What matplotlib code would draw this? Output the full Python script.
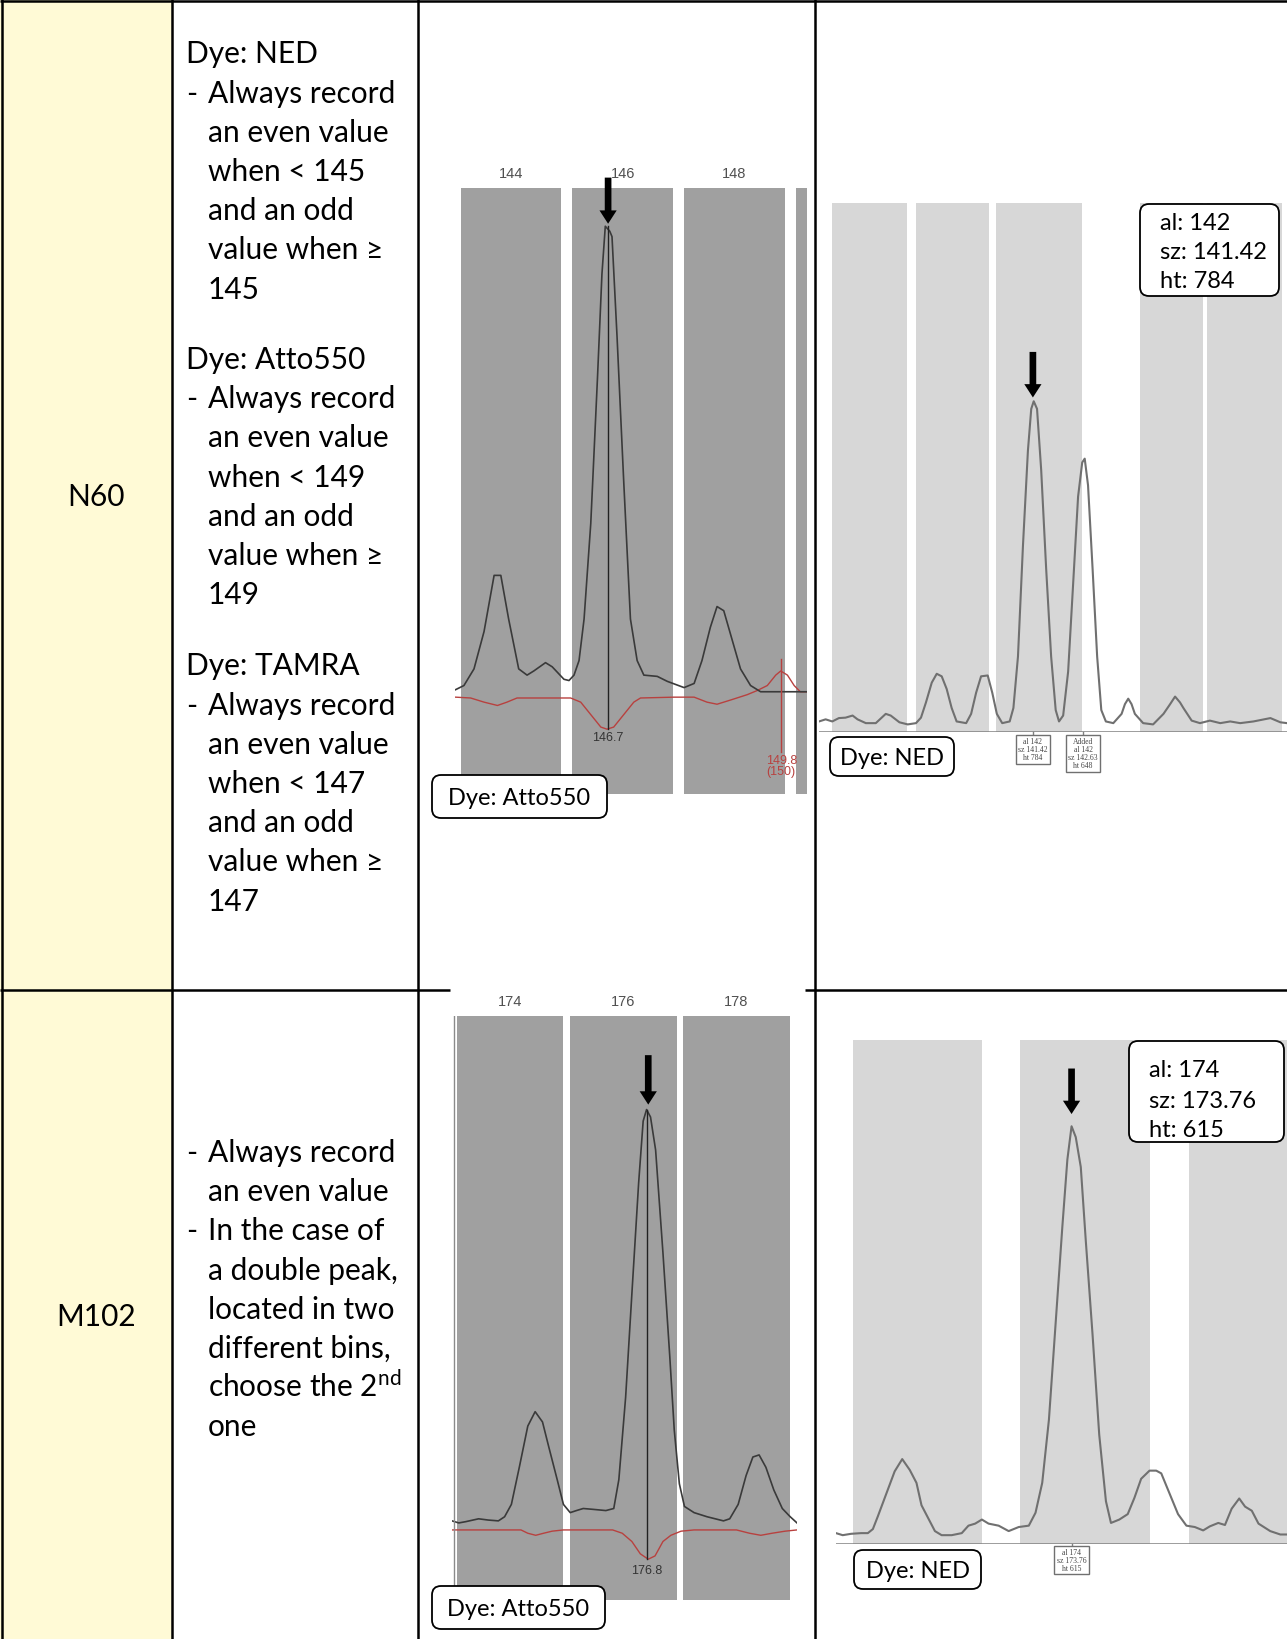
import matplotlib
matplotlib.use("Agg")
import matplotlib.pyplot as plt
from matplotlib.patches import FancyBboxPatch, Rectangle

# ------------------------------------
# Table text

markers = ["N60", "M102"]

n60_notes = [
    ["Dye: NED", "- Always record", "an even value", "when < 145",
     "and an odd", "value when \u2265", "145"],
    ["Dye: Atto550", "- Always record", "an even value", "when < 149",
     "and an odd", "value when \u2265", "149"],
    ["Dye: TAMRA", "- Always record", "an even value", "when < 147",
     "and an odd", "value when \u2265", "147"],
]
m102_notes = [
    ["- Always record", "an even value", "- In the case of", "a double peak,",
     "located in two", "different bins,", "choose the 2$^{\\mathregular{nd}}$", "one"],
]

# ------------------------------------
# N60, Atto550 electropherogram (size in bp, signal)

a_bins = [144, 146, 148, 150]
a_size = [143.01, 143.16, 143.34, 143.52, 143.70, 143.82, 143.96, 144.14, 144.29, 144.41,
          144.62, 144.74, 144.95, 145.04, 145.13, 145.22, 145.31, 145.43, 145.55, 145.63,
          145.69, 145.77, 145.81, 145.90, 146.02, 146.14, 146.26, 146.38, 146.62, 146.80,
          147.10, 147.28, 147.42, 147.57, 147.69, 147.81, 147.96, 148.11, 148.29, 148.47,
          148.71, 148.89, 149.30]
a_signal = [251, 261, 301, 391, 526, 526, 421, 301, 286, 296,
            316, 306, 276, 273, 286, 321, 421, 651, 1001, 1251,
            1366, 1354, 1341, 1101, 751, 421, 321, 286, 283, 271,
            256, 266, 321, 401, 451, 441, 371, 301, 261, 246,
            246, 246, 246]
a_red_size = [143.01, 143.28, 143.52, 143.76, 143.93, 144.11, 145.07, 145.25, 145.43, 145.61,
              145.72, 145.84, 146.02, 146.20, 146.32, 146.92, 147.28, 147.51, 147.69, 147.93,
              148.23, 148.41, 148.59, 148.74, 148.83, 148.95, 149.07, 149.18, 149.30]
a_red_signal = [233, 231, 221, 213, 221, 231, 231, 221, 191, 161,
                156, 161, 191, 221, 231, 233, 233, 221, 216, 226,
                239, 249, 261, 286, 296, 286, 261, 246, 246]
a_call = (145.74, "146.7")
a_red_call = (148.84, "149.8\n(150)")

# ------------------------------------
# N60, NED electropherogram (size in bp, RFU)

b_bins = [(136.57, 138.38), (138.59, 140.36), (140.54, 142.61), (144.01, 145.52), (145.63, 147.42)]
b_size = [136.26, 136.42, 136.58, 136.74, 136.90, 137.07, 137.19, 137.39, 137.63, 137.87,
          137.99, 138.20, 138.40, 138.60, 138.72, 138.84, 138.98, 139.10, 139.22, 139.34,
          139.46, 139.58, 139.81, 139.93, 140.05, 140.17, 140.33, 140.44, 140.55, 140.68,
          140.86, 140.95, 141.06, 141.18, 141.30, 141.38, 141.44, 141.52, 141.62, 141.74,
          141.86, 141.97, 142.05, 142.15, 142.27, 142.39, 142.51, 142.61, 142.67, 142.75,
          142.86, 142.97, 143.07, 143.18, 143.36, 143.56, 143.64, 143.72, 143.80, 143.88,
          144.08, 144.32, 144.57, 144.73, 144.85, 144.97, 145.05, 145.25, 145.45, 145.69,
          145.94, 146.18, 146.42, 146.74, 147.15, 147.39, 147.55]
b_rfu = [25, 30, 25, 33, 34, 39, 30, 21, 21, 43,
         39, 23, 18, 21, 34, 70, 117, 138, 132, 102,
         57, 25, 21, 43, 93, 132, 134, 93, 43, 21,
         25, 57, 179, 441, 667, 766, 784, 766, 621, 387,
         179, 52, 25, 39, 143, 350, 558, 639, 648, 585,
         387, 179, 52, 25, 21, 43, 66, 79, 66, 43,
         21, 18, 43, 66, 84, 70, 57, 27, 21, 27,
         21, 25, 21, 25, 33, 23, 21]
b_calls = [(141.42, "al 142\nsz 141.42\nht 784"), (142.63, "Added\nal 142\nsz 142.63\nht 648")]
b_info = ["al: 142", "sz: 141.42", "ht: 784"]

# ------------------------------------
# M102, Atto550 electropherogram

c_bins = [174, 176, 178]
c_size = [172.97, 173.09, 173.21, 173.44, 173.61, 173.79, 173.90, 174.02, 174.16, 174.31,
          174.44, 174.57, 174.68, 174.83, 174.94, 175.06, 175.17, 175.29, 175.46, 175.69,
          175.83, 175.92, 176.04, 176.15, 176.27, 176.35, 176.41, 176.48, 176.57, 176.70,
          176.82, 176.90, 176.99, 177.08, 177.25, 177.48, 177.77, 177.88, 178.03, 178.17,
          178.29, 178.40, 178.52, 178.66, 178.81, 178.95, 179.07]
c_signal = [192, 187, 190, 197, 194, 192, 202, 232, 322, 422,
            457, 432, 372, 292, 232, 212, 217, 222, 220, 217,
            222, 292, 492, 742, 1012, 1162, 1190, 1172, 1092, 842,
            592, 412, 282, 227, 212, 202, 192, 197, 232, 302,
            347, 352, 322, 267, 222, 202, 187]
c_red_size = [172.97, 174.19, 174.31, 174.45, 174.59, 174.74, 174.94, 175.81, 175.98, 176.15,
              176.30, 176.44, 176.56, 176.70, 176.84, 177.02, 177.25, 178.00, 178.23, 178.43,
              178.63, 178.86, 179.07]
c_red_signal = [170, 170, 162, 157, 162, 167, 170, 170, 162, 142,
                112, 99, 107, 142, 157, 167, 170, 170, 162, 157,
                162, 167, 170]
c_call = (176.42, "176.8")

# ------------------------------------
# M102, NED electropherogram

d_bins = [(171.15, 172.69), (173.15, 174.69), (175.16, 176.90)]
d_size = [170.95, 171.03, 171.13, 171.25, 171.33, 171.39, 171.45, 171.55, 171.65, 171.74,
          171.83, 171.91, 171.97, 172.05, 172.13, 172.21, 172.33, 172.45, 172.53, 172.61,
          172.69, 172.77, 172.89, 173.01, 173.13, 173.25, 173.33, 173.41, 173.49, 173.57,
          173.65, 173.71, 173.76, 173.81, 173.87, 173.93, 174.01, 174.09, 174.17, 174.23,
          174.33, 174.43, 174.51, 174.59, 174.69, 174.77, 174.83, 174.93, 175.03, 175.13,
          175.23, 175.33, 175.41, 175.51, 175.59, 175.67, 175.76, 175.83, 175.91, 175.99,
          176.13, 176.25, 176.33]
d_rfu = [16, 13, 15, 16, 16, 22, 41, 74, 107, 125,
         109, 90, 57, 38, 19, 13, 13, 16, 27, 30,
         36, 30, 27, 19, 25, 27, 46, 90, 183, 325,
         467, 566, 615, 599, 555, 446, 309, 161, 63, 31,
         36, 44, 68, 96, 108, 108, 104, 74, 44, 27,
         25, 20, 26, 31, 28, 52, 67, 55, 49, 30,
         19, 14, 14]
d_calls = [(173.76, "al 174\nsz 173.76\nht 615")]
d_info = ["al: 174", "sz: 173.76", "ht: 615"]

# ------------------------------------
# Styling

W, H = 1287, 1640
FONT = ["Lato", "DejaVu Sans"]
BAR_DARK = "#a0a0a0"
BAR_LIGHT = "#d7d7d7"
TRACE = "#3a3a3a"
RED = "#b8413f"
YELLOW = "#fffad6"

fig = plt.figure(figsize=(W / 100, H / 100), dpi=100)


def px_axes(left, top, right, bottom):
    return fig.add_axes([left / W, 1 - bottom / H, (right - left) / W, (bottom - top) / H])


def peak_arrow(ax, x, tail, tip):
    ax.annotate("", xy=(x, tip), xytext=(x, tail), annotation_clip=False,
                arrowprops=dict(arrowstyle="simple,head_length=0.48,head_width=0.62,tail_width=0.24",
                                mutation_scale=20, fc="black", ec="black", lw=0,
                                shrinkA=0, shrinkB=0))


def atto_panel(ax, bins, half, size, signal, red_size, red_signal, xlim, ymax):
    for c in bins:
        ax.axvspan(c - half, c + half, color=BAR_DARK, lw=0, zorder=0)
        if xlim[0] < c < xlim[1]:
            ax.text(c, ymax + 36, str(c), ha="center", va="center", fontsize=10.5,
                    color="#505050", family="Liberation Sans", clip_on=False)
    ax.plot(red_size, red_signal, color=RED, lw=1.0)
    ax.plot(size, signal, color=TRACE, lw=1.2)
    ax.set_xlim(*xlim)
    ax.set_ylim(0, ymax)
    ax.axis("off")


def ned_panel(ax, bins, size, rfu, calls, xlim, ymax, drop):
    for lo, hi in bins:
        ax.axvspan(lo, hi, color=BAR_LIGHT, lw=0, zorder=0)
    ax.plot(size, rfu, color="#707070", lw=1.5)
    ax.axhline(0, color="#808080", lw=1.8)
    for x, label in calls:
        ax.plot([x, x], [0, -drop], color="#808080", lw=1, clip_on=False)
        ax.text(x, -drop, label, ha="center", va="top", fontsize=5.5, linespacing=1.0,
                family="Liberation Serif", color="#444444", clip_on=False,
                bbox=dict(boxstyle="square,pad=0.3", fc="white", ec="#707070", lw=1))
    ax.set_xlim(*xlim)
    ax.set_ylim(0, ymax)
    ax.axis("off")


# ------------------------------------
# Electropherograms

ax_a = px_axes(455, 189, 807, 795)
atto_panel(ax_a, a_bins, 0.9, a_size, a_signal, a_red_size, a_red_signal, (143.0, 149.3), 1458)
ax_a.plot([a_call[0]] * 2, [max(a_signal), 156], color="#222222", lw=1.0)
ax_a.text(a_call[0], 136, a_call[1], ha="center", va="center", fontsize=9,
          color="#333333", family="Liberation Sans")
ax_a.plot([a_red_call[0]] * 2, [326, 100], color=RED, lw=1.0)
ax_a.text(a_red_call[0], 68, a_red_call[1], ha="center", va="center", fontsize=9,
          color=RED, family="Liberation Sans", linespacing=0.85)
peak_arrow(ax_a, a_call[0], 1483, 1372)

ax_b = px_axes(819, 204, 1287, 733)
ned_panel(ax_b, b_bins, b_size, b_rfu, b_calls, (136.26, 147.55), 1254, 13)
peak_arrow(ax_b, b_calls[0][0], 901, 793)

ax_c = px_axes(452, 1017, 797, 1601)
atto_panel(ax_c, c_bins, 0.94, c_size, c_signal, c_red_size, c_red_signal, (172.97, 179.07), 1417)
ax_c.axvline(173.0, color="#8a8a8a", lw=1.0)
ax_c.plot([c_call[0]] * 2, [max(c_signal), 99], color="#222222", lw=1.0)
ax_c.text(c_call[0], 72, c_call[1], ha="center", va="center", fontsize=9,
          color="#333333", family="Liberation Sans")
peak_arrow(ax_c, 176.44, 1322, 1202)

ax_d = px_axes(836, 1041, 1287, 1545)
ned_panel(ax_d, d_bins, d_size, d_rfu, d_calls, (170.95, 176.33), 742, 6)
peak_arrow(ax_d, d_calls[0][0], 700, 633)

# ------------------------------------
# Table layer on top

ov = fig.add_axes([0, 0, 1, 1], zorder=10)
ov.set_xlim(0, W)
ov.set_ylim(H, 0)
ov.axis("off")

ov.add_patch(Rectangle((0, 0), 172, H, fc=YELLOW, ec="none", zorder=0))
for x in [1.5, 172, 418, 815]:
    ov.plot([x, x], [0, H], color="black", lw=1.8, solid_capstyle="butt")
ov.plot([0, W], [1.5, 1.5], color="black", lw=1.8, solid_capstyle="butt")
ov.plot([0, 450], [991, 991], color="black", lw=1.8, solid_capstyle="butt")
ov.plot([805, W], [991, 991], color="black", lw=1.8, solid_capstyle="butt")

body = dict(fontsize=21.5, family=FONT, color="black", va="baseline")
for name, y in zip(markers, [497, 1317]):
    ov.text(96, y + 9, name, ha="center", **body)


def notes(blocks, starts, step=39.2):
    for block, y0 in zip(blocks, starts):
        for i, line in enumerate(block):
            y = y0 + i * step + 9
            if line.startswith("- "):
                ov.text(186, y, "-", **body)
                ov.text(208, y, line[2:], **body)
            elif line.startswith("Dye"):
                ov.text(186, y, line, **body)
            else:
                ov.text(208, y, line, **body)


notes(n60_notes, [54.4, 360, 666.5])
notes(m102_notes, [1153])


def label_box(x0, y0, x1, y1):
    ov.add_patch(FancyBboxPatch((x0, y0), x1 - x0, y1 - y0,
                                boxstyle="round,pad=0,rounding_size=9",
                                fc="white", ec="black", lw=1.3))


boxed = dict(fontsize=17, family=FONT, color="black", va="baseline")
for (x0, y0, x1, y1), text in [((432, 776, 607, 819), "Dye: Atto550"),
                               ((432, 1587, 605, 1630), "Dye: Atto550"),
                               ((830, 738, 954, 777), "Dye: NED"),
                               ((854, 1551, 981, 1590), "Dye: NED")]:
    label_box(x0, y0, x1, y1)
    ov.text((x0 + x1) / 2, (y0 + y1) / 2 + 8, text, ha="center", **boxed)

label_box(1140, 205, 1279, 297)
for line, y in zip(b_info, [222, 251, 280]):
    ov.text(1160, y + 8, line, ha="left", **boxed)

label_box(1129, 1042, 1284, 1143)
for line, y in zip(d_info, [1069, 1100, 1129]):
    ov.text(1149, y + 8, line, ha="left", **boxed)

plt.savefig("out.png", dpi=100)
